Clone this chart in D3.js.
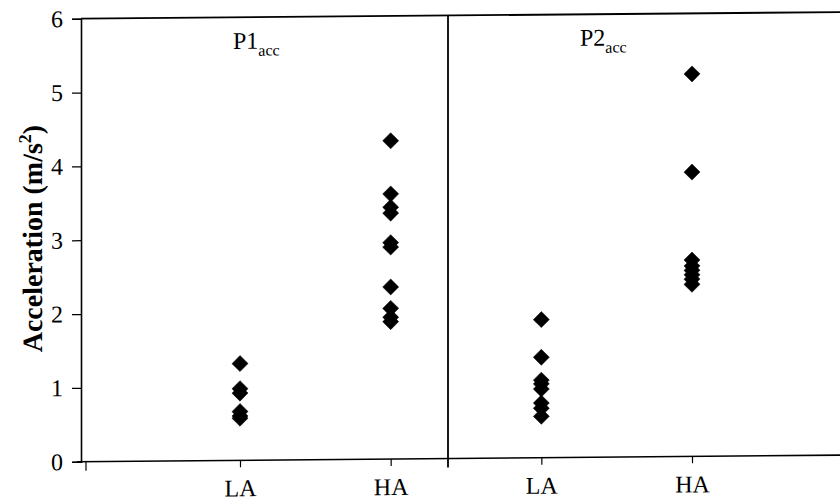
<!DOCTYPE html>
<html>
<head>
<meta charset="utf-8">
<script src="https://cdn.jsdelivr.net/npm/d3@7"></script>
<style>
  body { margin: 0; background: #fff; }
  svg { display: block; font-family: "Liberation Serif", "Times New Roman", serif; }
</style>
</head>
<body>
<svg width="840" height="500"></svg>
<script>
// values
const categories = ['P1-LA', 'P1-HA', 'P2-LA', 'P2-HA'];
const catLabels = ['LA', 'HA', 'LA', 'HA'];
const p1LA = [1.31, 0.97, 0.91, 0.66, 0.60, 0.57];
const p1HA = [4.31, 3.59, 3.41, 3.33, 2.93, 2.87, 2.33, 2.04, 1.92, 1.86];
const p2LA = [1.87, 1.36, 1.05, 1.00, 0.93, 0.74, 0.67, 0.56];
const p2HA = [5.18, 3.85, 2.66, 2.58, 2.52, 2.46, 2.40, 2.33];
const yTicks = [0, 1, 2, 3, 4, 5, 6];
const panels = ['P1', 'P2'];

const serif = '"Liberation Serif", "Times New Roman", serif';
const svg = d3.select('svg');

const plotLeft = 81, plotRight = 840, plotTop = 15.5, plotBottom = 458.5;
const divider = 448;

// the scan is slightly tilted
const chart = svg.append('g')
  .attr('font-family', serif)
  .attr('transform', `translate(${divider},0) skewY(-0.5) translate(${-divider},0)`);

const y = d3.scaleLinear().domain([0, 6]).range([plotBottom, plotTop]);
const x = d3.scalePoint().domain(categories).range([240, 692]);

const points = [];
[p1LA, p1HA, p2LA, p2HA].forEach((vals, i) => {
  vals.forEach(v => points.push({ cat: categories[i], v: v }));
});

// y axis
const yAxis = chart.append('g')
  .attr('transform', `translate(${plotLeft},0)`)
  .call(d3.axisLeft(y).tickValues(yTicks).tickSize(9).tickPadding(9).tickFormat(d3.format('d')));
yAxis.attr('font-family', serif);
yAxis.select('.domain').attr('stroke-width', 1.6);
yAxis.selectAll('.tick line').attr('stroke-width', 1.2);
yAxis.selectAll('text')
  .attr('font-family', serif)
  .attr('font-size', 24)
  .attr('fill', '#000');

// x axis
const xAxis = chart.append('g')
  .attr('transform', `translate(0,${plotBottom})`)
  .call(d3.axisBottom(x).tickSize(7).tickSizeOuter(0).tickPadding(12)
    .tickFormat((d, i) => catLabels[i]));
xAxis.attr('font-family', serif);
xAxis.select('.domain').attr('d', `M${plotLeft - 4},0H${plotRight}`).attr('stroke-width', 1.6);
xAxis.selectAll('.tick line').attr('stroke-width', 1.2);
xAxis.selectAll('text')
  .attr('font-family', serif)
  .attr('font-size', 24)
  .attr('fill', '#000');

// start tick of category axis
chart.append('line')
  .attr('x1', plotLeft + 5).attr('x2', plotLeft + 5)
  .attr('y1', plotBottom).attr('y2', plotBottom + 9)
  .attr('stroke', '#000').attr('stroke-width', 1.2);

// top frame line and panel divider
chart.append('line')
  .attr('x1', plotLeft).attr('x2', plotRight)
  .attr('y1', plotTop).attr('y2', plotTop)
  .attr('stroke', '#000').attr('stroke-width', 1.8);
chart.append('line')
  .attr('x1', divider).attr('x2', divider)
  .attr('y1', plotTop).attr('y2', plotBottom + 9)
  .attr('stroke', '#000').attr('stroke-width', 1.8);

// panel titles
const titleX = [233, 580];
panels.forEach((p, i) => {
  const t = chart.append('text')
    .attr('x', titleX[i]).attr('y', 47)
    .attr('font-size', 24)
    .attr('fill', '#000')
    .text(p);
  t.append('tspan')
    .attr('font-size', 16)
    .attr('dy', 7)
    .text('acc');
});

// y title
const yt = chart.append('text')
  .attr('transform', `translate(42,235) rotate(-90)`)
  .attr('text-anchor', 'middle')
  .attr('font-size', 28)
  .attr('font-weight', 'bold')
  .attr('fill', '#000')
  .text('Acceleration (m/s');
yt.append('tspan').attr('font-size', 18).attr('dy', -11).text('2');
yt.append('tspan').attr('dy', 11).text(')');

// diamonds
const diamond = d3.symbol().type(d3.symbolSquare).size(128);
chart.append('g').selectAll('path')
  .data(points)
  .join('path')
  .attr('d', diamond)
  .attr('transform', d => `translate(${x(d.cat)},${y(d.v)}) rotate(45)`)
  .attr('fill', '#000')
  .attr('stroke', '#000')
  .attr('stroke-width', 0.5);
</script>
</body>
</html>
